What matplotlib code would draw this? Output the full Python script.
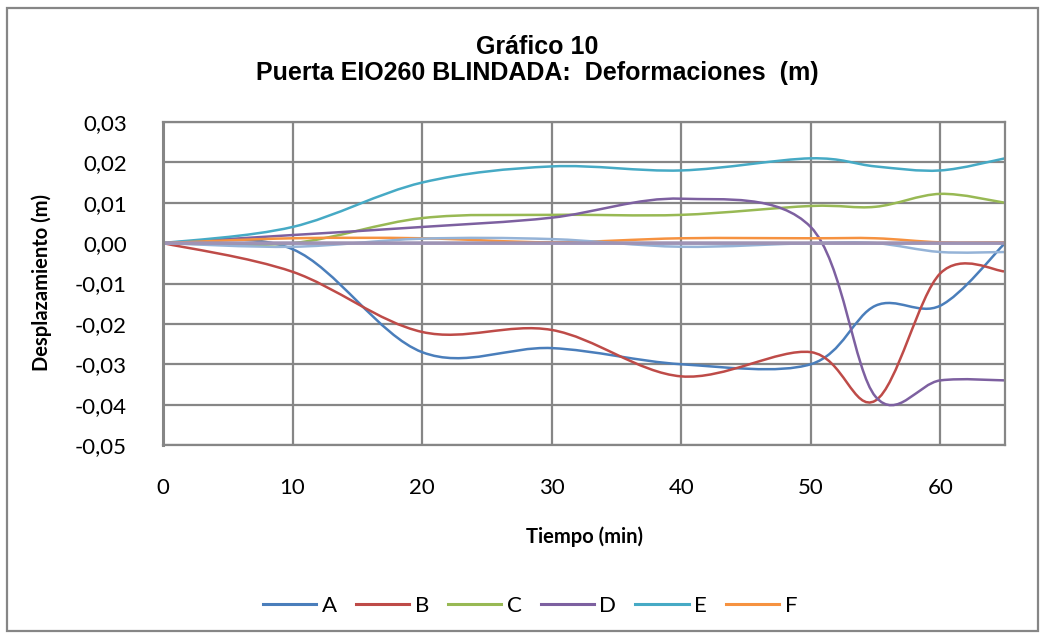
#!/usr/bin/env python3
"""
Gráfico 10 - Puerta EIO260 BLINDADA: deformaciones vs tiempo.
Excel-style smoothed lines (Bezier through the measured points).
"""
import numpy as np
import matplotlib
matplotlib.use('Agg')
import matplotlib.pyplot as plt
from matplotlib.path import Path
from matplotlib.patches import PathPatch, Rectangle
from matplotlib.lines import Line2D
from matplotlib.ticker import FuncFormatter

# measurement times (min)
tiempo = [0, 10, 20, 30, 40, 50, 55, 60, 65]

# displacement readings (m)
serie_a = [0.0, -0.0015, -0.027, -0.026, -0.030, -0.030, -0.0155, -0.0155, 0.0]
serie_b = [0.0, -0.0071, -0.022, -0.0215, -0.033, -0.027, -0.039, -0.0075, -0.007]
serie_c = [0.0, 0.0, 0.0062, 0.007, 0.007, 0.0092, 0.009, 0.0122, 0.010]
serie_d = [0.0, 0.002, 0.004, 0.0063, 0.011, 0.004, -0.038, -0.034, -0.034]
serie_e = [0.0, 0.004, 0.015, 0.019, 0.018, 0.021, 0.019, 0.018, 0.021]
serie_f = [0.0, 0.0012, 0.0012, 0.0002, 0.0012, 0.0012, 0.0012, 0.0002, 0.0002]
# two extra series drawn on the chart but not in the legend
serie_g = [0.0, -0.0009, 0.0011, 0.001, -0.0009, 0.0, 0.0, -0.0022, -0.0022]
serie_h = [0.0, 0.0, 0.0, 0.0, 0.0, 0.0, 0.0, 0.0, 0.0]

nombres = ['A', 'B', 'C', 'D', 'E', 'F']
colores = ['#4A7EBB', '#BE4B48', '#98B954', '#7D60A0', '#46AAC5', '#F69240']
color_g = '#95B3D7'
color_h = '#9E93B5'

y_ticks = [-0.05, -0.04, -0.03, -0.02, -0.01, 0.0, 0.01, 0.02, 0.03]
x_ticks = [0, 10, 20, 30, 40, 50, 60]

GRID = '#868686'
FONT = 'Lato'


def smooth_path(x, y):
    """Cubic Bezier path through the points, control points like Excel's smoothing."""
    pts = np.column_stack([x, y]).astype(float)
    n = len(pts)
    verts = [pts[0]]
    codes = [Path.MOVETO]
    for i in range(n - 1):
        p_prev = pts[max(i - 1, 0)]
        p0 = pts[i]
        p1 = pts[i + 1]
        p_next = pts[min(i + 2, n - 1)]
        c1 = p0 + (p1 - p_prev) / 6.0
        c2 = p1 - (p_next - p0) / 6.0
        verts += [c1, c2, p1]
        codes += [Path.CURVE4] * 3
    return Path(verts, codes)


def draw_series(ax, y, color, lw=1.8):
    patch = PathPatch(smooth_path(tiempo, y), facecolor='none', edgecolor=color,
                      linewidth=lw, capstyle='round', joinstyle='round')
    ax.add_patch(patch)


fig = plt.figure(figsize=(10.45, 6.38), dpi=100)
ax = fig.add_axes([163 / 1045, 1 - 445 / 638, 842 / 1045, 323 / 638])

for serie, color in zip([serie_a, serie_b, serie_c, serie_d, serie_e, serie_f], colores):
    draw_series(ax, serie, color)
draw_series(ax, serie_g, color_g)
draw_series(ax, serie_h, color_h, lw=2.6)

ax.set_xlim(0, 65)
ax.set_ylim(-0.05, 0.03)
ax.set_xticks(x_ticks)
ax.set_yticks(y_ticks)
ax.yaxis.set_major_formatter(FuncFormatter(lambda v, p: f'{v:.2f}'.replace('.', ',').replace('-0,00', '0,00')))
ax.tick_params(length=0, labelsize=16, colors='black')
ax.tick_params(axis='x', pad=24)
ax.tick_params(axis='y', pad=26)
for lab in ax.get_xticklabels() + ax.get_yticklabels():
    lab.set_fontfamily(FONT)
ax.grid(True, color=GRID, linewidth=1.6)
ax.set_axisbelow(True)
for sp in ax.spines.values():
    sp.set_color(GRID)
    sp.set_linewidth(1.6)
ax.spines['left'].set_linewidth(2.2)

fig.text(537 / 1045, 1 - 60 / 638, 'Gráfico 10\nPuerta EIO260 BLINDADA:  Deformaciones  (m)',
         ha='center', va='center', fontsize=18, fontweight='bold',
         family='Liberation Sans', linespacing=1.15)
fig.text(42 / 1045, 1 - 283 / 638, 'Desplazamiento (m)', rotation=90, ha='center', va='center',
         fontsize=14.5, fontweight='bold', family=FONT)
fig.text(585 / 1045, 1 - 537 / 638, 'Tiempo (min)', ha='center', va='center',
         fontsize=14.5, fontweight='bold', family=FONT)

handles = [Line2D([], [], color=c, linewidth=2.2) for c in colores]
fig.legend(handles, nombres, loc='center', bbox_to_anchor=(530 / 1045, 1 - 606 / 638), ncol=6,
           frameon=False, handlelength=2.4, handletextpad=0.25, columnspacing=0.85,
           prop={'family': FONT, 'size': 16})

# chart area border
fig.add_artist(Rectangle((7 / 1045, 1 - 631 / 638), 1031 / 1045, 623 / 638,
                         transform=fig.transFigure, fill=False, edgecolor=GRID, linewidth=1.6))

plt.savefig('out.png', dpi=100)
plt.close()
